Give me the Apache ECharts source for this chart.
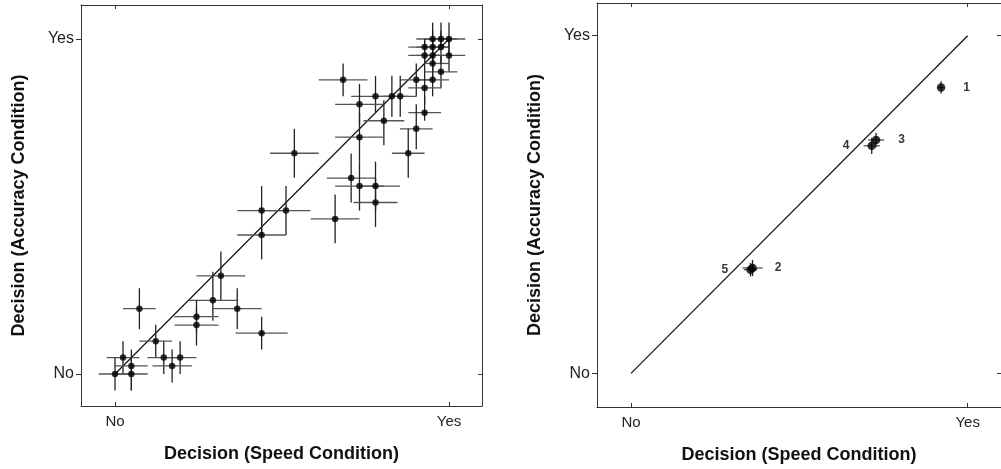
<!DOCTYPE html>
<html>
<head>
<meta charset="utf-8">
<script src="https://cdn.jsdelivr.net/npm/echarts@6/dist/echarts.min.js"></script>
<style>
html,body{margin:0;padding:0;background:#fff;}
#chart{width:1001px;height:469px;}
</style>
</head>
<body>
<div id="chart"></div>
<script>
// ---- Tick labels ----
const tickValues = [0, 1];
const tickLabels = ['No', 'Yes'];
const xTitle = 'Decision (Speed Condition)';
const yTitle = 'Decision (Accuracy Condition)';

// ---- Left panel: individual items ----
const leftX = [0.951,0.976,1.000,0.927,0.951,0.976,0.927,0.951,1.000,0.951,0.976,0.683,0.902,0.951,0.927,0.780,0.829,0.854,0.732,0.927,0.805,0.902,0.732,0.537,0.878,0.707,0.732,0.780,0.780,0.659,0.439,0.512,0.439,0.317,0.293,0.366,0.073,0.244,0.244,0.439,0.122,0.024,0.146,0.195,0.049,0.171,0.000,0.049];
const leftY = [1.000,1.000,1.000,0.976,0.976,0.976,0.951,0.951,0.951,0.927,0.902,0.878,0.878,0.878,0.854,0.829,0.829,0.829,0.805,0.780,0.756,0.732,0.707,0.659,0.659,0.585,0.561,0.561,0.512,0.463,0.488,0.488,0.415,0.293,0.220,0.195,0.195,0.171,0.146,0.122,0.098,0.049,0.049,0.049,0.024,0.024,0.000,0.000];
const leftXErrMinus = [.049,.049,.049,.049,.049,.049,.049,.049,.049,.024,.049,.073,.049,.049,.049,.073,.049,.049,.073,.049,.061,.049,.073,.073,.049,.073,.073,.049,.066,.073,.073,.073,.073,.073,.073,.073,.049,.066,.066,.078,.049,.049,.049,.049,.049,.059,.049,.049];
const leftXErrPlus  = [.049,.049,.049,.049,.049,.024,.049,.049,.049,.049,.049,.073,.049,.049,.049,.073,.049,.049,.073,.049,.061,.049,.073,.073,.049,.073,.073,.073,.066,.073,.073,.073,.073,.073,.073,.073,.049,.066,.066,.078,.049,.049,.049,.049,.049,.059,.049,.049];
const leftYErrMinus = [.049,.024,.049,.049,.049,.049,.049,.049,.049,.049,.049,.049,.049,.049,.049,.049,.061,.061,.061,.024,.073,.061,.073,.073,.073,.073,.073,.073,.073,.073,.073,.073,.073,.073,.061,.061,.061,.049,.061,.049,.049,.049,.049,.049,.073,.049,.049,.049];
const leftYErrPlus  = [.049,.049,.049,.024,.049,.049,.049,.049,.049,.049,.049,.049,.049,.073,.049,.061,.061,.061,.061,.049,.061,.073,.073,.073,.073,.073,.073,.073,.073,.073,.073,.073,.073,.073,.085,.061,.061,.049,.049,.049,.049,.049,.049,.049,.049,.049,.049,.049];

// ---- Right panel: group means ----
const rightLabels = ['1','2','3','4','5'];
const rightX = [0.921, 0.361, 0.728, 0.715, 0.355];
const rightY = [0.847, 0.312, 0.691, 0.674, 0.307];
const rightXErr = [0.009, 0.030, 0.024, 0.024, 0.020];
const rightYErr = [0.018, 0.024, 0.021, 0.024, 0.020];
const rightLabelSide = ['right','right','right','left','left'];

// ---- Identity line ----
const diagonal = [[0, 0], [1, 1]];

const FONT = '"Liberation Sans", Arial, Helvetica, sans-serif';
const FRAME = '#333';

function fmt(v) {
  const i = tickValues.indexOf(v);
  return i >= 0 ? tickLabels[i] : '';
}

function axisPair(gi, xr, yr) {
  const base = (extra) => Object.assign({
    gridIndex: gi,
    type: 'value',
    axisLine: { show: true, onZero: false, lineStyle: { color: FRAME, width: 1 } },
    splitLine: { show: false },
    axisTick: { show: true, inside: true, length: 4, customValues: tickValues, lineStyle: { color: FRAME } },
    axisLabel: { show: false }
  }, extra);
  const xs = [
    base({ position: 'bottom', min: xr[0], max: xr[1],
      axisLabel: { show: true, customValues: tickValues, formatter: fmt, margin: 8,
        color: '#222', fontSize: 15, fontFamily: FONT },
      name: xTitle, nameLocation: 'middle', nameGap: 39,
      nameTextStyle: { fontSize: 18, fontWeight: 'bold', color: '#111', fontFamily: FONT } }),
    base({ position: 'top', min: xr[0], max: xr[1] })
  ];
  const ys = [
    base({ position: 'left', min: yr[0], max: yr[1],
      axisTick: { show: true, inside: false, length: 5, customValues: tickValues, lineStyle: { color: FRAME } },
      axisLabel: { show: true, customValues: tickValues, formatter: fmt, margin: 7,
        color: '#222', fontSize: 16, fontFamily: FONT },
      name: yTitle, nameLocation: 'middle', nameGap: 53, nameRotate: 90,
      nameTextStyle: { fontSize: 18, fontWeight: 'bold', color: '#111', fontFamily: FONT } }),
    base({ position: 'right', min: yr[0], max: yr[1] })
  ];
  return { xs, ys };
}

const A = axisPair(0, [-0.1018, 1.0988], [-0.0955, 1.1015]);
const B = axisPair(1, [-0.101, 1.099], [-0.0998, 1.097]);

function errRenderer(xs, ys, xm, xp, ym, yp) {
  return function (params, api) {
    const i = params.dataIndex;
    const x = xs[i], y = ys[i];
    const c = api.coord([x, y]);
    const l = api.coord([x - xm[i], y]);
    const r = api.coord([x + xp[i], y]);
    const b = api.coord([x, y - ym[i]]);
    const t = api.coord([x, y + yp[i]]);
    return {
      type: 'group',
      children: [
        { type: 'line', shape: { x1: l[0], y1: c[1], x2: r[0], y2: c[1] },
          style: { stroke: '#555', lineWidth: 1.3 } },
        { type: 'line', shape: { x1: c[0], y1: b[1], x2: c[0], y2: t[1] },
          style: { stroke: '#222', lineWidth: 1.3 } }
      ]
    };
  };
}

const chart = echarts.init(document.getElementById('chart'), null, { renderer: 'canvas' });
chart.setOption({
  animation: false,
  backgroundColor: '#fff',
  textStyle: { fontFamily: FONT },
  grid: [
    { left: 81, top: 5, width: 401, height: 401, containLabel: false },
    { left: 597, top: 3, width: 404, height: 404, containLabel: false }
  ],
  xAxis: [A.xs[0], A.xs[1], B.xs[0], B.xs[1]],
  yAxis: [A.ys[0], A.ys[1], B.ys[0], B.ys[1]],
  series: [
    { type: 'line', xAxisIndex: 0, yAxisIndex: 0, data: diagonal, showSymbol: false, symbol: 'none',
      lineStyle: { color: '#111', width: 1.2 }, z: 2 },
    { type: 'custom', xAxisIndex: 0, yAxisIndex: 0,
      data: leftX.map((x, i) => [x, leftY[i]]),
      renderItem: errRenderer(leftX, leftY, leftXErrMinus, leftXErrPlus, leftYErrMinus, leftYErrPlus), z: 3 },
    { type: 'scatter', xAxisIndex: 0, yAxisIndex: 0,
      data: leftX.map((x, i) => [x, leftY[i]]),
      symbol: 'circle', symbolSize: 6.5, itemStyle: { color: '#000' }, z: 4 },

    { type: 'line', xAxisIndex: 2, yAxisIndex: 2, data: diagonal, showSymbol: false, symbol: 'none',
      lineStyle: { color: '#111', width: 1.2 }, z: 2 },
    { type: 'custom', xAxisIndex: 2, yAxisIndex: 2,
      data: rightX.map((x, i) => [x, rightY[i]]),
      renderItem: errRenderer(rightX, rightY, rightXErr, rightXErr, rightYErr, rightYErr), z: 3 },
    { type: 'scatter', xAxisIndex: 2, yAxisIndex: 2,
      data: rightX.map((x, i) => ({
        value: [x, rightY[i]], name: rightLabels[i],
        label: { position: rightLabelSide[i] }
      })),
      symbol: 'circle', symbolSize: 8.5, itemStyle: { color: '#000' },
      label: { show: true, formatter: '{b}', distance: 18, fontSize: 12, fontWeight: 'bold',
        color: '#000', fontFamily: FONT },
      z: 4 }
  ]
});
</script>
</body>
</html>
